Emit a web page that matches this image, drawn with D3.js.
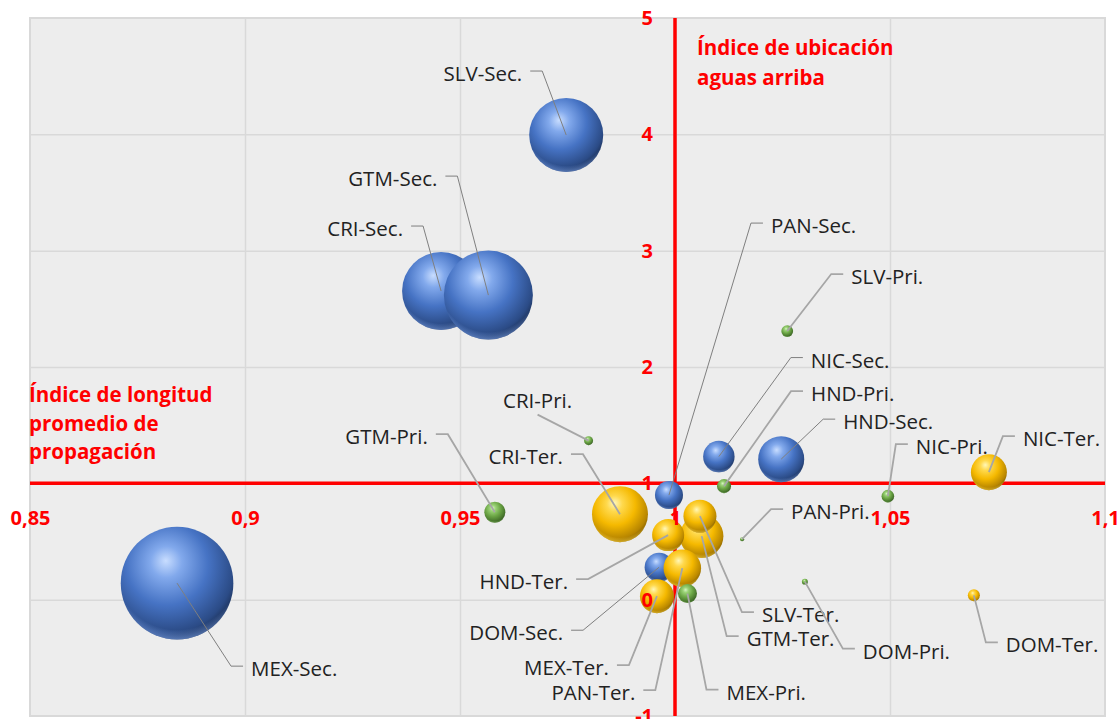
<!DOCTYPE html>
<html>
<head>
<meta charset="utf-8">
<script src="https://cdn.jsdelivr.net/npm/d3@7"></script>
<style>
  html, body { margin: 0; padding: 0; background: #fff; }
  svg { display: block; font-family: "Open Sans", "Noto Sans", sans-serif; }
</style>
</head>
<body>
<svg id="chart" width="1120" height="719"></svg>
<script>
// Countries, same order in every series
const countries = ["CRI", "DOM", "GTM", "HND", "MEX", "NIC", "PAN", "SLV"];

// Secondary sector
const secX    = [0.9456, 0.9963, 0.9566, 1.0247, 0.8842, 1.0102, 0.9986, 0.9747];
const secY    = [2.653, 0.279, 2.618, 1.208, 0.142, 1.230, 0.899, 3.994];
const secSize = [48.0, 6.6, 62.5, 16.7, 100, 7.8, 6.2, 43.2];

// Primary sector
const priX    = [0.9799, 1.0302, 0.9581, 1.0114, 1.0029, 1.0495, 1.0156, 1.0261];
const priY    = [1.367, 0.155, 0.752, 0.976, 0.052, 0.890, 0.520, 2.309];
const priSize = [0.64, 0.28, 3.5, 1.55, 2.85, 1.25, 0.13, 1.1];

// Tertiary sector
const terX    = [0.9872, 1.0695, 1.0062, 0.9984, 0.9958, 1.0730, 1.0017, 1.0058];
const terY    = [0.735, 0.037, 0.546, 0.555, 0.030, 1.096, 0.271, 0.718];
const terSize = [24.7, 1.14, 14.9, 8.1, 9.1, 10.2, 11.1, 8.6];

// Axes
const xTicks = [0.85, 0.9, 0.95, 1, 1.05, 1.1];
const yTicks = [-1, 0, 1, 2, 3, 4, 5];
const xTitle = ["Índice de longitud", "promedio de", "propagación"];
const yTitle = ["Índice de ubicación", "aguas arriba"];

// Label placement: offset (px) from the bubble centre to the text anchor, and anchor side
const secLabelPos = [[-38,-63,"end"],[-96,65,"end"],[-51,-117,"end"],[62,-38,"start"],
                     [74,85,"start"],[92,-97,"start"],[102,-270,"start"],[-44,-62,"end"]];
const priLabelPos = [[-51,-41,"above"],[58,69,"start"],[-67,-76,"end"],[87,-93,"start"],
                     [39,98,"start"],[28,-50,"start"],[49,-28,"start"],[64,-55,"start"]];
const terLabelPos = [[-57,-58,"end"],[32,49,"start"],[45,102,"start"],[-100,46,"end"],
                     [-48,71,"end"],[34,-34,"start"],[-47,124,"end"],[62,98,"start"]];

const series = [
  { key: "sec", suffix: "Sec.", xs: secX, ys: secY, sizes: secSize, pos: secLabelPos,
    colors: ["#c8ddff", "#82a9ec", "#4673c4", "#2b4b86", "#15233f"], rim: "#7aa2ea",
    leader: { stroke: "#7f7f7f", width: 1 } },
  { key: "ter", suffix: "Ter.", xs: terX, ys: terY, sizes: terSize, pos: terLabelPos,
    colors: ["#fff7b8", "#ffd94d", "#f5b900", "#b88600", "#6e4f00"], rim: "#ffd640",
    leader: { stroke: "#a6a6a6", width: 1.8 } },
  { key: "pri", suffix: "Pri.", xs: priX, ys: priY, sizes: priSize, pos: priLabelPos,
    colors: ["#d6f4c2", "#9ad276", "#6ba545", "#45722b", "#26421b"], rim: "#90c86c",
    leader: { stroke: "#a6a6a6", width: 1.8 } }
];

const plot = { left: 30, right: 1105, top: 18, bottom: 716 };

const x = d3.scaleLinear().domain([0.85, 1.1]).range([plot.left, plot.right]);
const y = d3.scaleLinear().domain([-1, 5]).range([plot.bottom, plot.top]);
const r = d3.scaleSqrt().domain([0, 100]).range([0, 56.3]);
const fmt = d => String(d).replace(".", ",");

const svg = d3.select("#chart");
const defs = svg.append("defs");

// Sphere shading per series
series.forEach(s => {
  const g = defs.append("radialGradient").attr("id", "ball-" + s.key)
    .attr("cx", 0.42).attr("cy", 0.36).attr("r", 0.7).attr("fx", 0.4).attr("fy", 0.3);
  [0, 0.2, 0.52, 0.84, 1].forEach((o, i) =>
    g.append("stop").attr("offset", o).attr("stop-color", s.colors[i]));
  const rim = defs.append("radialGradient").attr("id", "rim-" + s.key)
    .attr("cx", 0.5).attr("cy", 0.36).attr("r", 0.66);
  rim.append("stop").attr("offset", 0.84).attr("stop-color", s.rim).attr("stop-opacity", 0);
  rim.append("stop").attr("offset", 1).attr("stop-color", s.rim).attr("stop-opacity", 0.75);
});

// Plot background and border
svg.append("rect")
  .attr("x", plot.left).attr("y", plot.top)
  .attr("width", plot.right - plot.left).attr("height", plot.bottom - plot.top)
  .attr("fill", "#ededed").attr("stroke", "#d9d9d9").attr("stroke-width", 2);

// Gridlines
const grid = svg.append("g").attr("class", "grid");
grid.append("g")
  .attr("transform", `translate(0,${plot.bottom})`)
  .call(d3.axisBottom(x).tickValues(xTicks.slice(1, -1)).tickSize(-(plot.bottom - plot.top)).tickFormat(""));
grid.append("g")
  .attr("transform", `translate(${plot.left},0)`)
  .call(d3.axisLeft(y).tickValues(yTicks.slice(1, -1)).tickSize(-(plot.right - plot.left)).tickFormat(""));
grid.selectAll(".domain").remove();
grid.selectAll(".tick line").attr("stroke", "#d9d9d9").attr("stroke-width", 1.5);

// Crossing axes at (1, 1)
svg.append("line")
  .attr("x1", plot.left).attr("x2", plot.right).attr("y1", y(1)).attr("y2", y(1))
  .attr("stroke", "#ff0000").attr("stroke-width", 3.5);
svg.append("line")
  .attr("x1", x(1)).attr("x2", x(1)).attr("y1", plot.top).attr("y2", plot.bottom)
  .attr("stroke", "#ff0000").attr("stroke-width", 3.5);

// Bubbles
const points = [];
series.forEach(s => {
  countries.forEach((c, i) => {
    points.push({ series: s, name: c + "-" + s.suffix, cx: x(s.xs[i]), cy: y(s.ys[i]),
      rad: r(s.sizes[i]), pos: s.pos[i] });
  });
});

const bubbles = svg.append("g").attr("class", "bubbles");
points.forEach(p => {
  const g = bubbles.append("g");
  g.append("circle").attr("cx", p.cx).attr("cy", p.cy).attr("r", p.rad)
    .attr("fill", `url(#ball-${p.series.key})`);
  g.append("circle").attr("cx", p.cx).attr("cy", p.cy).attr("r", p.rad)
    .attr("fill", `url(#rim-${p.series.key})`);
});

// Leader lines and data labels
const labels = svg.append("g").attr("class", "labels");
points.forEach(p => {
  const [dx, dy, side] = p.pos;
  const tx = p.cx + dx, ty = p.cy + dy;
  let d;
  if (side === "start") {
    d = `M${p.cx},${p.cy}L${tx - 20},${ty - 2}L${tx - 8},${ty - 2}`;
  } else if (side === "end") {
    d = `M${p.cx},${p.cy}L${tx + 20},${ty - 2}L${tx + 8},${ty - 2}`;
  } else {
    d = `M${p.cx},${p.cy}L${tx},${ty + 15}`;
  }
  labels.append("path").attr("d", d).attr("fill", "none")
    .attr("stroke", p.series.leader.stroke).attr("stroke-width", p.series.leader.width);
  labels.append("text")
    .attr("x", tx).attr("y", ty)
    .attr("text-anchor", side === "above" ? "middle" : side)
    .attr("dominant-baseline", "central")
    .attr("font-size", 20.5).attr("fill", "#222")
    .text(p.name);
});

// Tick labels, drawn on top
const axes = svg.append("g").attr("class", "axes");
axes.append("g")
  .attr("transform", `translate(0,${y(1)})`)
  .call(d3.axisBottom(x).tickValues(xTicks).tickSize(0).tickPadding(27).tickFormat(fmt));
axes.append("g")
  .attr("transform", `translate(${x(1)},0)`)
  .call(d3.axisLeft(y).tickValues(yTicks).tickSize(0).tickPadding(22).tickFormat(fmt));
axes.selectAll(".domain").remove();
axes.selectAll(".tick text")
  .attr("fill", "#ff0000").attr("font-size", 20).attr("font-weight", "bold")
  .attr("font-family", "\"Open Sans\", sans-serif");

// Axis titles
const titleStyle = sel => sel.attr("fill", "#ff0000").attr("font-size", 20.5)
  .attr("font-weight", "bold").attr("dominant-baseline", "central");
const yt = svg.append("text").attr("x", 697).attr("y", 47).call(titleStyle);
yTitle.forEach((t, i) => yt.append("tspan").attr("x", 697).attr("y", 47 + i * 30).text(t));
const xt = svg.append("text").attr("x", 29).attr("y", 394).call(titleStyle);
xTitle.forEach((t, i) => xt.append("tspan").attr("x", 29).attr("y", 394 + i * 28.5).text(t));
</script>
</body>
</html>
